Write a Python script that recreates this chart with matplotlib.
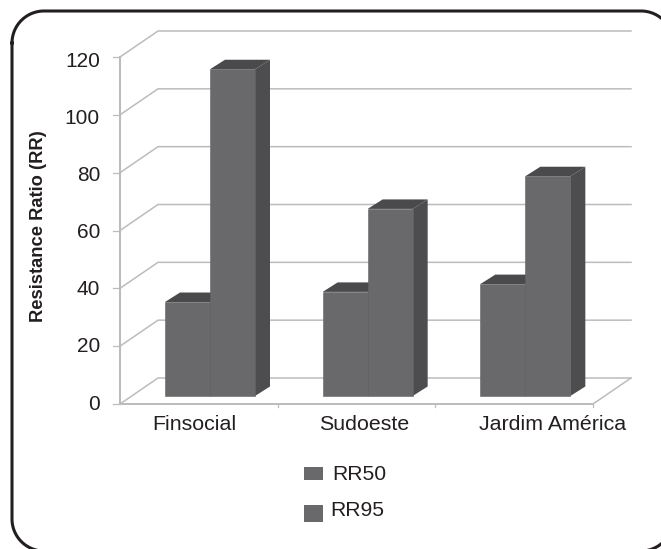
import numpy as np
import matplotlib
matplotlib.use("Agg")
import matplotlib.pyplot as plt
from matplotlib.patches import Polygon, Rectangle

categories = ["Finsocial", "Sudoeste", "Jardim América"]
rr50 = [32.5, 36, 38.7]
rr95 = [113, 64.7, 76]
yticks = [0, 20, 40, 60, 80, 100, 120]
series_names = ["RR50", "RR95"]

plt.rcParams['font.family'] = ['Liberation Sans', 'DejaVu Sans']

W, H = 661, 549
fig = plt.figure(figsize=(W/100, H/100), dpi=100)

# plot area of the front plane, in pixels
left, right, top, bottom = 120, 593, 57, 404
ax = fig.add_axes([left/W, 1-bottom/H, (right-left)/W, (bottom-top)/H])
ax.set_xlim(0, 3)
ax.set_ylim(0, 120)
ax.axis("off")

# pixel offsets to data units
ux = 3/(right-left)
uy = 120/(bottom-top)
wall_dx, wall_dy = 38*ux, 26*uy
bar_dx, bar_dy = 15*ux, 9.5*uy
base_dx, base_dy = 11.7*ux, 8*uy
grid = "#bcbcbe"
ink = "#231f20"

# walls + gridlines
for v in yticks:
    ax.plot([0, wall_dx, 3+wall_dx], [v, v+wall_dy, v+wall_dy],
            color=grid, lw=1.1, clip_on=False, zorder=1, solid_joinstyle="miter")
    ax.plot([-7*ux, 0], [v, v], color=grid, lw=0.9, clip_on=False, zorder=1)
ax.plot([0, 0], [0, 120], color=grid, lw=1.5, clip_on=False, zorder=1)
ax.plot([0, 3], [0, 0], color=grid, lw=1.4, clip_on=False, zorder=1)
ax.plot([3, 3+wall_dx], [0, wall_dy], color=grid, lw=1.1, clip_on=False, zorder=1)
for i in range(1, 4):
    ax.plot([i, i], [0, -3*uy], color=grid, lw=0.9, clip_on=False, zorder=1)

# 3d bars
bw = 45*ux
off = 33.3*ux
front_c, side_c, top_c = "#69696b", "#4d4d4f", "#4a4a4c"
for i in range(3):
    for j, vals in enumerate([rr50, rr95]):
        x0 = i + base_dx + off + j*bw
        x1 = x0 + bw
        y0 = base_dy
        y1 = vals[i] + base_dy
        z = 3 + (x0*0.001)
        ax.add_patch(Polygon([(x1, y0), (x1+bar_dx, y0+bar_dy), (x1+bar_dx, y1+bar_dy), (x1, y1)],
                             fc=side_c, ec="none", clip_on=False, zorder=z))
        ax.add_patch(Polygon([(x0, y1), (x0+bar_dx, y1+bar_dy), (x1+bar_dx, y1+bar_dy), (x1, y1)],
                             fc=top_c, ec="none", clip_on=False, zorder=z))
        ax.add_patch(Rectangle((x0, y0), bw, y1-y0, fc=front_c, ec="#636365", lw=0.4,
                               clip_on=False, zorder=z+0.0005))

# tick labels, slightly tighter than the ticks like the original
for v in yticks:
    ax.text(-20*ux, v*0.988, str(v), ha="right", va="center", fontsize=15, color=ink, clip_on=False)
# category labels are not centred under their slots in the original
label_x = [194, 364, 553]
for c, px in zip(categories, label_x):
    ax.text((px-left)*ux, -20*uy, c, ha="center", va="center", fontsize=15.4, color=ink, clip_on=False)

fig.text(38.5/W, 1-226/H, "Resistance Ratio (RR)", rotation=90, ha="center", va="center",
         fontsize=13.2, fontweight="bold", color=ink)

# legend is placed by hand, spacing in the original is uneven
fig.add_artist(Rectangle((304/W, 1-480/H), 19/W, 13/H, transform=fig.transFigure, fc="#69696b", ec="none"))
fig.add_artist(Rectangle((304/W, 1-522/H), 19/W, 17/H, transform=fig.transFigure, fc="#69696b", ec="none"))
fig.text(332/W, 1-475/H, series_names[0], ha="left", va="center", fontsize=15.2, color=ink)
fig.text(330/W, 1-511/H, series_names[1], ha="left", va="center", fontsize=15.2, color=ink)

# rounded frame, runs off the right and bottom edges
bg = fig.add_axes([0, 0, 1, 1], zorder=5)
bg.set_xlim(0, W)
bg.set_ylim(H, 0)
bg.axis("off")
bg.patch.set_alpha(0)
r = 32
fx0, fx1, fy0, fy1 = 12, 673, 11, 551
t = np.linspace(0, np.pi/2, 30)
fx = np.concatenate([fx0+r-r*np.cos(t), fx1-r+r*np.sin(t), fx1-r+r*np.cos(t), fx0+r-r*np.sin(t), [fx0]])
fy = np.concatenate([fy0+r-r*np.sin(t), fy0+r-r*np.cos(t), fy1-r+r*np.sin(t), fy1-r+r*np.cos(t), [fy0+r]])
bg.plot(fx, fy, color=ink, lw=2.2)

fig.savefig("out.png", dpi=100)
